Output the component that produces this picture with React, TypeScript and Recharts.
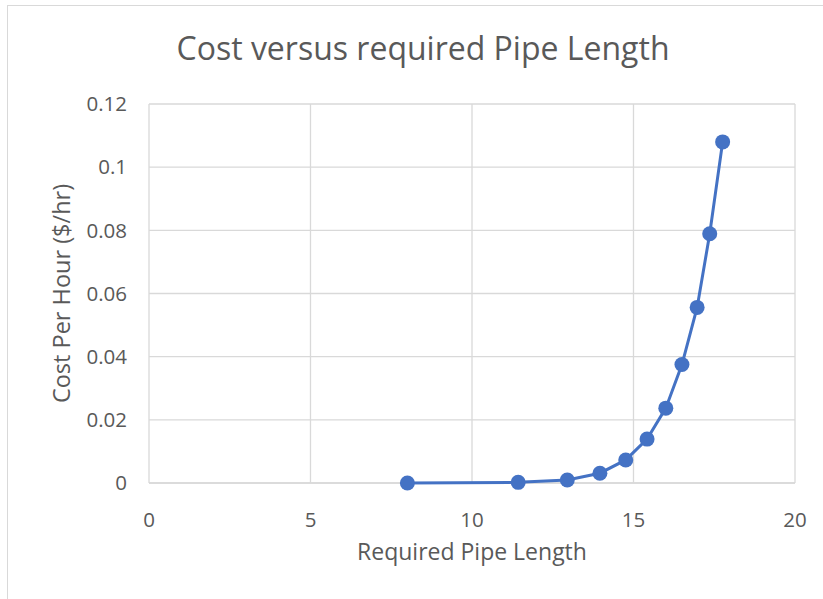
import React from "react";
import { ScatterChart, Scatter, XAxis, YAxis, CartesianGrid, Label } from "recharts";

const pipeLength = [8.0, 11.43, 12.95, 13.96, 14.76, 15.42, 16.0, 16.5, 16.97, 17.36, 17.76];
const costPerHour = [0.0, 0.0002, 0.00095, 0.0031, 0.0073, 0.0139, 0.0237, 0.0375, 0.0556, 0.0789, 0.108];
const xTicks = [0, 5, 10, 15, 20];
const yTicks = [0, 0.02, 0.04, 0.06, 0.08, 0.1, 0.12];

const data = pipeLength.map((x, i) => ({ x, y: costPerHour[i] }));

const FONT = "'Open Sans', Lato, sans-serif";
const TEXT = "#595959";
const GRID = "#d9d9d9";
const BLUE = "#4472C4";

const Dot = (props: any) => {
  const { cx, cy } = props;
  if (cx == null || cy == null) return null;
  return <circle cx={cx} cy={cy} r={7.5} fill={BLUE} stroke={BLUE} strokeWidth={0} />;
};

export default function App() {
  return (
    <div style={{ position: "absolute", left: 0, top: 0, width: 823, height: 599, background: "#fff", overflow: "hidden", fontFamily: FONT }}>
      <div style={{ position: "absolute", left: 7, top: 5, width: 900, height: 700, borderLeft: `1px solid ${GRID}`, borderTop: `1px solid ${GRID}` }} />
      <div style={{ position: "absolute", left: 0, width: 846, top: 27, textAlign: "center", fontSize: 32, color: TEXT, fontFamily: FONT, lineHeight: "42px" }}>
        Cost versus required Pipe Length
      </div>
      <div style={{ position: "absolute", left: 0, top: 0 }}>
        <ScatterChart width={823} height={599} margin={{ top: 104, right: 28, bottom: 86, left: 49 }}>
          <CartesianGrid stroke={GRID} strokeWidth={1.3} horizontal vertical />
          <XAxis
            type="number"
            dataKey="x"
            domain={[0, 20]}
            ticks={xTicks}
            height={30}
            axisLine={{ stroke: GRID, strokeWidth: 1.3 }}
            tickLine={false}
            tickMargin={23}
            tick={{ fill: TEXT, fontSize: 20.5, fontFamily: FONT }}
          >
            <Label value="Required Pipe Length" position="bottom" offset={31} style={{ fill: TEXT, fontSize: 23, fontFamily: FONT }} />
          </XAxis>
          <YAxis
            type="number"
            dataKey="y"
            domain={[0, 0.12]}
            ticks={yTicks}
            width={100}
            axisLine={false}
            tickLine={false}
            tickMargin={16}
            tick={{ fill: TEXT, fontSize: 20.5, fontFamily: FONT }}
          >
            <Label value="Cost Per Hour ($/hr)" angle={-90} position="insideLeft" offset={13} style={{ fill: TEXT, fontSize: 23.5, fontFamily: FONT, textAnchor: "middle" }} />
          </YAxis>
          <Scatter
            data={data}
            fill={BLUE}
            line={{ stroke: BLUE, strokeWidth: 3 }}
            lineType="joint"
            shape={<Dot />}
            isAnimationActive={false}
          />
        </ScatterChart>
      </div>
    </div>
  );
}
